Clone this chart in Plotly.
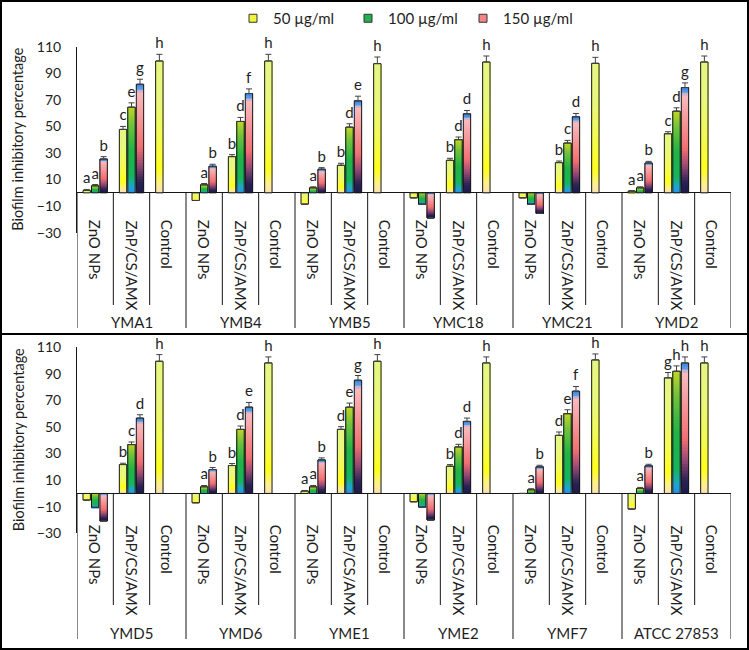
import plotly.graph_objects as go

W, H = 749, 650
FONT = "Lato"
TXT = "#1e1e1e"
LINE = "#151515"

subcats = ["ZnO NPs", "ZnP/CS/AMX", "Control"]
series = ["50 µg/ml", "100 µg/ml", "150 µg/ml"]
y_ticks = [-30, -10, 10, 30, 50, 70, 90, 110]
y_title = "Biofilm inhibitory percentage"

# ---------------- top panel data (per strain: 50, 100, 150 µg/ml) ----------------
top_strains = ["YMA1", "YMB4", "YMB5", "YMC18", "YMC21", "YMD2"]
top_zno = [[1.75, 5.25, 25.5], [-5.75, 6, 20], [-8.5, 3.75, 17.75],
           [-3.75, -8.5, -18.75], [-3.75, -8.5, -15.5], [1.25, 3.75, 22.5]]
top_znp = [[47.75, 64.5, 81.75], [27.25, 53.75, 74.75], [20.75, 49.5, 69.25],
           [24.5, 40, 59.5], [22.75, 37.5, 57.25], [44.5, 61.5, 79.25]]
top_ctrl = [99.25, 99.25, 97.25, 98.5, 97.5, 98.5]
top_zno_err = [[0.8, 1, 1.75], [0, 1, 1.5], [0, 0.8, 1.2], [0, 0, 0], [0, 0, 0], [0.5, 0.8, 1.2]]
top_znp_err = [[2.25, 3.25, 3.75], [1.5, 3, 3.5], [1.5, 2.5, 3.5], [1.5, 2, 2.5], [1.2, 2, 2.5], [1.5, 2.5, 3.5]]
top_ctrl_err = [5, 5, 5, 4.5, 4.5, 4.5]
top_zno_let = [["a", "a", "b"], ["", "a", "b"], ["", "a", "b"], ["", "", ""], ["", "", ""], ["a", "a", "b"]]
top_znp_let = [["c", "e", "g"], ["b", "d", "f"], ["b", "d", "e"], ["b", "d", "d"], ["b", "c", "d"], ["c", "d", "g"]]
top_ctrl_let = ["h", "h", "h", "h", "h", "h"]

# ---------------- bottom panel data ----------------
bot_strains = ["YMD5", "YMD6", "YME1", "YME2", "YMF7", "ATCC 27853"]
bot_zno = [[-5, -10.5, -20.75], [-7, 5, 18], [1.75, 5, 25.25],
           [-6.25, -10.25, -20], [0, 2.75, 20], [-11.75, 3.75, 20.75]]
bot_znp = [[21.75, 36.75, 56.75], [21, 48.25, 65], [48.25, 65, 85.25],
           [20.5, 35, 54.25], [43.75, 60, 77], [87, 92, 98.25]]
bot_ctrl = [99.5, 98.25, 99.5, 98.25, 100.5, 98.25]
bot_zno_err = [[0, 0, 0], [0, 1, 1.5], [0.5, 1, 1.5], [0, 0, 0], [0, 0.8, 1.2], [0, 0.8, 1.2]]
bot_znp_err = [[1, 2, 2.5], [1.5, 2.5, 3.5], [2, 3, 3.5], [1.2, 2, 2.5], [2.5, 3, 3.5], [4, 4, 4.5]]
bot_ctrl_err = [5, 4.5, 5, 4.5, 4.5, 4.5]
bot_zno_let = [["", "", ""], ["", "a", "b"], ["a", "a", "b"], ["", "", ""], ["", "a", "b"], ["", "a", "b"]]
bot_znp_let = [["b", "c", "d"], ["b", "d", "e"], ["d", "e", "g"], ["b", "d", "d"], ["d", "e", "f"], ["g", "h", "h"]]
bot_ctrl_let = ["h", "h", "h", "h", "h", "h"]

# gradient colour stops (bottom -> top of each bar)
grad = [
    [(0, "#fbe2b6"), (0.07, "#fdef8c"), (0.18, "#ffff1c"), (0.42, "#f4fb52"), (0.7, "#e9f87c"), (1, "#e5f684")],
    [(0, "#2a8ee8"), (0.07, "#1ea6cf"), (0.2, "#16b45a"), (0.5, "#22b345"), (0.8, "#72c23c"), (1, "#c2d52a")],
    [(0, "#1b1b4c"), (0.1, "#2a2254"), (0.26, "#9c4a74"), (0.42, "#f07072"), (0.7, "#f59a9c"),
     (0.93, "#f8bcc0"), (0.955, "#5d9fe8"), (1, "#3a85dc")],
]
legend_colors = ["#eef53c", "#22b24c", "#f28585"]


def hex2rgb(h):
    h = h.lstrip("#")
    return tuple(int(h[i:i + 2], 16) for i in (0, 2, 4))


def color_at(stops, t):
    t = max(0.0, min(1.0, t))
    for (p0, c0), (p1, c1) in zip(stops[:-1], stops[1:]):
        if p0 <= t <= p1:
            f = 0 if p1 == p0 else (t - p0) / (p1 - p0)
            a, b = hex2rgb(c0), hex2rgb(c1)
            return "rgb(%d,%d,%d)" % tuple(round(a[i] + (b[i] - a[i]) * f) for i in range(3))
    return stops[-1][1]


# pixel layout (figure is 749 x 650, no margins)
X_LEFT, X_RIGHT = 77, 731
panels_px = [
    dict(top=46.7, bot=232.7, sub_end=305, grp_end=328, lab_top=218, grp_lab=322, title_y=139.7),
    dict(top=347.3, bot=533.3, sub_end=605, grp_end=639, lab_top=523, grp_lab=633, title_y=440.3),
]
YMIN, YMAX = -30, 110
N = 40

fig = go.Figure()
shapes = []
annotations = []

panel_data = [
    (top_strains, top_zno, top_znp, top_ctrl, top_zno_err, top_znp_err, top_ctrl_err, top_zno_let, top_znp_let, top_ctrl_let),
    (bot_strains, bot_zno, bot_znp, bot_ctrl, bot_zno_err, bot_znp_err, bot_ctrl_err, bot_zno_let, bot_znp_let, bot_ctrl_let),
]

for p, (strains, zno, znp, ctrl, zno_e, znp_e, ctrl_e, zno_l, znp_l, ctrl_l) in enumerate(panel_data):
    xa = "x" if p == 0 else "x2"
    ya = "y" if p == 0 else "y2"
    cats = []
    vals = [[], [], []]
    errs = [[], [], []]
    lets = [[], [], []]
    for i, s in enumerate(strains):
        for sc in subcats:
            cats.append(s + "|" + sc)
        for j in range(3):
            vals[j] += [zno[i][j], znp[i][j], ctrl[i] if j == 0 else None]
            errs[j] += [zno_e[i][j], znp_e[i][j], ctrl_e[i] if j == 0 else None]
            lets[j] += [zno_l[i][j], znp_l[i][j], ctrl_l[i] if j == 0 else ""]

    for j in range(3):
        # gradient fill: layered bars, each from slice k up to the bar end (later layers cover earlier)
        for k in range(N):
            ys, bs, cs = [], [], []
            for v in vals[j]:
                if v is None:
                    ys.append(None); bs.append(None); cs.append("rgba(0,0,0,0)")
                    continue
                bs.append(v * k / N)
                ys.append(v * (N - k) / N)
                t = (k + 0.5) / N if v >= 0 else 1 - (k + 0.5) / N
                cs.append(color_at(grad[j], t))
            fig.add_trace(go.Bar(x=cats, y=ys, base=bs, xaxis=xa, yaxis=ya, offsetgroup=str(j),
                                 marker=dict(color=cs, line=dict(width=0)),
                                 showlegend=False, hoverinfo="skip"))
        # outline + error bars
        fig.add_trace(go.Bar(
            x=cats, y=vals[j], xaxis=xa, yaxis=ya, offsetgroup=str(j), name=series[j],
            marker=dict(color="rgba(0,0,0,0)", line=dict(color=LINE, width=1)),
            error_y=dict(type="data", symmetric=False, array=errs[j],
                         arrayminus=[0 if e is not None else None for e in errs[j]],
                         color="#404040", thickness=1, width=3),
            showlegend=False, hoverinfo="skip"))
        # significance letters above the error bars
        tops = []
        for v, e, l in zip(vals[j], errs[j], lets[j]):
            tops.append(v + (e or 0) if (v is not None and v > 0 and l) else None)
        fig.add_trace(go.Bar(
            x=cats, y=tops, xaxis=xa, yaxis=ya, offsetgroup=str(j), text=lets[j],
            textposition="outside", textangle=0, constraintext="none", cliponaxis=False,
            textfont=dict(family=FONT, size=15, color=TXT),
            marker=dict(color="rgba(0,0,0,0)", line=dict(width=0)),
            showlegend=False, hoverinfo="skip"))

    pp = panels_px[p]
    d0 = 1 - pp["bot"] / H
    d1 = 1 - pp["top"] / H
    zero_paper = d0 + (0 - YMIN) / (YMAX - YMIN) * (d1 - d0)
    xref = xa
    for b in range(len(cats) + 1):
        xb = b - 0.5
        end = pp["grp_end"] if b % 3 == 0 else pp["sub_end"]
        shapes.append(dict(type="line", xref=xref, yref="paper", x0=xb, x1=xb,
                           y0=zero_paper, y1=1 - end / H, line=dict(color=LINE, width=1)))
    for c in cats:
        annotations.append(dict(x=c, y=1 - pp["lab_top"] / H, xref=xref, yref="paper",
                                text=c.split("|")[1], textangle=90, showarrow=False,
                                xanchor="center", yanchor="top",
                                font=dict(family=FONT, size=15, color=TXT)))
    for i, s in enumerate(strains):
        annotations.append(dict(x=cats[3 * i + 1], y=1 - pp["grp_lab"] / H, xref=xref, yref="paper",
                                text=s, showarrow=False, xanchor="center", yanchor="middle",
                                font=dict(family=FONT, size=15, color=TXT)))
    annotations.append(dict(x=18 / W, y=1 - pp["title_y"] / H, xref="paper", yref="paper",
                            text=y_title, textangle=-90, showarrow=False,
                            xanchor="center", yanchor="middle",
                            font=dict(family=FONT, size=14.5, color=TXT)))

    axis_x = dict(domain=[X_LEFT / W, X_RIGHT / W], type="category", range=[-0.5, 17.5],
                  showticklabels=False, ticks="", showgrid=False, zeroline=False, showline=False,
                  anchor=ya, fixedrange=True)
    axis_y = dict(domain=[d0, d1], range=[YMIN, YMAX], tickvals=y_ticks, ticks="outside",
                  ticklen=12, tickcolor="rgba(0,0,0,0)", showgrid=False,
                  zeroline=True, zerolinecolor=LINE, zerolinewidth=1,
                  showline=True, linecolor=LINE, linewidth=1, anchor=xa,
                  tickfont=dict(family=FONT, size=14, color=TXT), fixedrange=True)
    if p == 0:
        fig.update_layout(xaxis=axis_x, yaxis=axis_y)
    else:
        fig.update_layout(xaxis2=axis_x, yaxis2=axis_y)

# legend entries
for j in range(3):
    fig.add_trace(go.Scatter(x=[None], y=[None], mode="markers", name=series[j],
                             marker=dict(symbol="square", size=8, color=legend_colors[j],
                                         line=dict(color="#333333", width=1)),
                             xaxis="x", yaxis="y", hoverinfo="skip"))

# separator and outer frame
shapes.append(dict(type="line", xref="paper", yref="paper", x0=0, x1=1, y0=1 - 334 / H, y1=1 - 334 / H,
                   line=dict(color="#000000", width=2)))
shapes.append(dict(type="rect", xref="paper", yref="paper", x0=1 / W, x1=1 - 1 / W, y0=1 / H, y1=1 - 1 / H,
                   line=dict(color="#000000", width=2)))

fig.update_layout(
    width=W, height=H,
    margin=dict(l=0, r=0, t=0, b=0, autoexpand=False),
    paper_bgcolor="white", plot_bgcolor="white",
    barmode="group", bargap=0.30, bargroupgap=0.13,
    font=dict(family=FONT, size=14, color=TXT),
    showlegend=True,
    legend=dict(orientation="h", x=233 / W, y=1 - 2 / H, xanchor="left", yanchor="top",
                font=dict(family=FONT, size=15, color=TXT), itemwidth=30,
                entrywidth=70, entrywidthmode="pixels", bgcolor="rgba(0,0,0,0)", traceorder="normal"),
    shapes=shapes, annotations=annotations,
)

fig.write_html("out.html")
